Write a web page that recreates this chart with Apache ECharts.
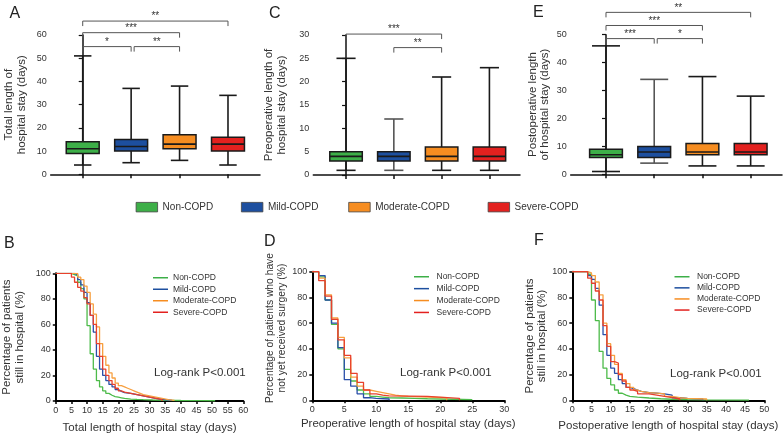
<!DOCTYPE html>
<html><head><meta charset="utf-8">
<script src="https://cdn.jsdelivr.net/npm/echarts@6/dist/echarts.min.js"></script>
<style>html,body{margin:0;padding:0;background:#fff}#c{width:784px;height:435px}</style>
</head><body><div id="c"></div><script>
const FONT = '"Liberation Sans", Arial, Helvetica, sans-serif';
const groups = ['Non-COPD', 'Mild-COPD', 'Moderate-COPD', 'Severe-COPD'];
const boxColors = ['#3daf48', '#1d4f9f', '#f68d21', '#e3211f'];
const lineColors = ['#4dbb4a', '#2a4fa9', '#f7a040', '#e8412c'];

// box stats per group: [min, Q1, median, Q3, max]
const totalBox = [[4, 9, 11, 14, 51], [5, 10, 12, 15, 37], [6, 11, 13, 17, 38], [4, 10, 13, 16, 34]];
const preopBox = [[1, 3, 4, 5, 25], [1, 3, 4, 5, 12], [1, 3, 4, 6, 21], [1, 3, 4, 6, 23]];
const postopBox = [[1, 6, 7, 9, 46], [4, 6, 8, 10, 34], [3, 7, 8, 11, 35], [3, 7, 8, 11, 28]];

// significance brackets: [fromGroup, toGroup, level]
const totalBrackets = [[0, 3, 66], [0, 2, 61], [0, 1, 55], [1, 2, 55]];
const totalStars = ['**', '***', '*', '**'];
const preopBrackets = [[0, 2, 30.2], [1, 2, 27.3]];
const preopStars = ['***', '**'];
const postopBrackets = [[0, 3, 58], [0, 2, 53.3], [0, 1, 48.6], [1, 2, 48.6]];
const postopStars = ['**', '***', '***', '*'];

// Kaplan-Meier style curves: [day, % remaining]
const kmTotal = [
  [[0,100],[5,99],[6,98],[7,93],[8,88],[9,80],[10,59],[11,37],[12,25],[13,16],[14,11],[15,8],[16,6],[17,4.5],[18,3.5],[19,3],[20,2.5],[21,2],[22,1.5],[24,1.2],[26,1],[28,0.8],[31,0.6],[35,0.4],[40,0.3],[46,0.2],[51,0]],
  [[0,100],[5,100],[6,99],[7,95],[8,91],[9,85],[10,77],[11,67],[12,54],[13,35],[14,25],[15,20],[16,16],[17,13],[18,11],[19,9],[20,7.5],[21,6.5],[22,6],[24,5],[26,4],[28,3],[30,2],[32,1.2],[34,0.6],[37,0]],
  [[0,100],[6,100],[7,97],[8,95],[9,90],[10,85],[11,76],[12,68],[13,58],[14,45],[15,35],[16,28],[17,22],[18,18],[19,14],[20,12],[21,11],[22,10],[23,9],[24,8],[25,7],[26,6],[27,5],[28,4],[30,3],[32,2],[34,1],[36,0.5],[38,0]],
  [[0,100],[4,100],[5,97],[6,93],[7,89],[8,86],[9,81],[10,76],[11,67],[12,60],[13,45],[14,35],[15,25],[16,20],[17,16],[18,13],[19,10],[20,8],[21,7],[22,6],[24,5],[26,4],[28,3],[30,2],[32,1],[34,0]]
];
const kmPreop = [
  [[0,100],[1,96],[2,78],[3,59],[4,40],[5,24],[6,15],[7,8],[8,5],[9,3],[10,2.5],[11,2],[12,1.8],[14,1.5],[16,1.2],[18,1],[20,0.8],[22,0.5],[25,0]],
  [[0,100],[1,97],[2,78],[3,60],[4,41],[5,16],[6,11],[7,5],[8,2],[9,1.5],[10,1],[12,0]],
  [[0,100],[1,95],[2,82],[3,64],[4,49],[5,33],[6,18],[7,11],[8,8],[9,7],[10,6],[11,5],[12,4],[13,3.5],[14,3],[15,2.5],[18,2],[21,0]],
  [[0,100],[1,93],[2,81],[3,63],[4,47],[5,35],[6,21],[7,14],[8,8],[9,5],[10,4],[11,3.5],[12,3],[18,1.5],[23,0]]
];
const kmPostop = [
  [[0,100],[3,100],[4,98],[5,78],[6,62],[7,38],[8,25],[9,17],[10,12],[11,8],[12,5.5],[13,4],[14,3],[15,2.5],[17,1.8],[20,1.2],[23,0.8],[26,0.5],[30,0.3],[35,0.2],[46,0]],
  [[0,100],[4,97],[5,94],[6,87],[7,74],[8,51],[9,35],[10,25],[11,21],[12,16],[13,13],[14,10],[15,9],[16,8],[17,7],[18,6],[20,5.5],[22,5],[24,4],[26,2],[28,1.5],[30,1],[34,0]],
  [[0,100],[3,100],[4,99],[5,97],[6,92],[7,82],[8,60],[9,44],[10,35],[11,28],[12,21],[13,16],[14,13],[15,10],[16,8],[17,7],[18,6],[20,5.5],[22,5],[24,3],[26,2],[28,1.5],[30,1],[35,0]],
  [[0,100],[3,100],[4,95],[5,91],[6,85],[7,78],[8,58],[9,42],[10,30],[11,29],[12,20],[13,15],[14,10],[15,8],[16,7],[17,5],[18,5],[20,4],[22,3],[24,2],[26,1],[28,0]]
];

const TXT = '#333';
function boxItem(color, whisker, capRatio) {
  return function (params, api) {
    const x = api.value(0);
    const lo = api.coord([x, api.value(1)]);
    const q1 = api.coord([x, api.value(2)]);
    const md = api.coord([x, api.value(3)]);
    const q3 = api.coord([x, api.value(4)]);
    const hi = api.coord([x, api.value(5)]);
    const unit = api.size([1, 0])[0];
    const bw = unit * 0.68, cw = unit * capRatio;
    const cx = lo[0];
    const ln = (x1, y1, x2, y2, c) => ({ type: 'line', shape: { x1, y1, x2, y2 }, style: { stroke: c, lineWidth: 1.6 } });
    return { type: 'group', children: [
      ln(cx, hi[1], cx, q3[1], whisker),
      ln(cx, q1[1], cx, lo[1], whisker),
      ln(cx - cw / 2, hi[1], cx + cw / 2, hi[1], whisker),
      ln(cx - cw / 2, lo[1], cx + cw / 2, lo[1], whisker),
      { type: 'rect', shape: { x: cx - bw / 2, y: q3[1], width: bw, height: q1[1] - q3[1] }, style: { fill: color, stroke: '#1a1a1a', lineWidth: 1.5 } },
      ln(cx - bw / 2, md[1], cx + bw / 2, md[1], '#1a1a1a')
    ] };
  };
}
function bracketItem(list, stars) {
  return function (params, api) {
    const i = params.dataIndex;
    const a = api.value(0), b = api.value(1), lvl = api.value(2);
    const p1 = api.coord([a, lvl]), p2 = api.coord([b, lvl]);
    const shared = list.some((o, j) => j !== i && o[1] === a && o[2] === lvl);
    const x1 = p1[0] + (shared ? 3 : 0), x2 = p2[0], y = p1[1];
    return { type: 'group', children: [
      { type: 'polyline', shape: { points: [[x1, y + 5], [x1, y], [x2, y], [x2, y + 5]] }, style: { stroke: '#555', lineWidth: 1, fill: 'none' } },
      { type: 'text', style: { text: stars[i], x: (x1 + x2) / 2, y: y - 4.5, align: 'center', verticalAlign: 'middle', fontSize: 10, fill: TXT, fontFamily: FONT } }
    ] };
  };
}

const grids = [
  { left: 50.7, top: 35, width: 209.3, height: 139.3 },
  { left: 313.3, top: 35, width: 206.7, height: 140 },
  { left: 570.7, top: 34.7, width: 211.3, height: 139.6 },
  { left: 52.3, top: 273.3, width: 191, height: 128.7 },
  { left: 312.3, top: 271.7, width: 192, height: 128.6 },
  { left: 572.3, top: 271.7, width: 192, height: 128.6 }
];

const boxX = (gi, min, max) => ({
  type: 'value', gridIndex: gi, min, max,
  axisLine: { show: true, lineStyle: { color: '#111', width: 1.5 } },
  axisTick: { show: true, customValues: [0, 1, 2, 3], length: 4, lineStyle: { color: '#111', width: 1.5 } },
  axisLabel: { show: false }, splitLine: { show: false }
});
const boxY = (gi, max, interval, name, gap) => ({
  type: 'value', gridIndex: gi, min: 0, max, interval,
  axisLine: { show: true, lineStyle: { color: '#111', width: 1.5 } },
  axisTick: { show: true, length: 4, lineStyle: { color: '#111', width: 1.2 } },
  axisLabel: { fontSize: 9, color: TXT, margin: 4, fontFamily: FONT },
  splitLine: { show: false },
  name, nameLocation: 'middle', nameGap: gap,
  nameTextStyle: { fontSize: 11.5, lineHeight: 12.5, color: TXT, fontFamily: FONT }
});
const kmX = (gi, max, name, gap) => ({
  type: 'value', gridIndex: gi, min: 0, max, interval: 5,
  axisLine: { show: true, lineStyle: { color: '#000', width: 2 } },
  axisTick: { show: true, length: 3, lineStyle: { color: '#000', width: 1.5 } },
  axisLabel: { fontSize: 9, color: TXT, margin: 5, fontFamily: FONT },
  splitLine: { show: false },
  name, nameLocation: 'middle', nameGap: gap,
  nameTextStyle: { fontSize: 11.5, color: TXT, fontFamily: FONT }
});
const kmY = (gi, name, gap, size, lh, shift) => ({
  type: 'value', gridIndex: gi, min: 0, max: 100, interval: 20,
  axisLine: { show: true, lineStyle: { color: '#000', width: 2 } },
  axisTick: { show: true, length: 3, lineStyle: { color: '#000', width: 1.5 } },
  axisLabel: { fontSize: 9, color: TXT, margin: 5, fontFamily: FONT },
  splitLine: { show: false },
  name, nameLocation: 'middle', nameGap: gap,
  nameTextStyle: { fontSize: size, lineHeight: lh, color: TXT, fontFamily: FONT, padding: [0, 0, 0, shift] }
});

const series = [];
[[totalBox, 0, 0.36], [preopBox, 1, 0.4], [postopBox, 2, 0.58]].forEach(([box, ax, cap]) => {
  groups.forEach((g, i) => {
    series.push({
      type: 'custom', name: g, xAxisIndex: ax, yAxisIndex: ax, clip: false,
      itemStyle: { color: boxColors[i] },
      renderItem: boxItem(boxColors[i], (i === 1 && ax > 0) ? '#555' : '#1a1a1a', cap),
      data: [[i].concat(box[i])]
    });
  });
});
[[totalBrackets, totalStars, 0], [preopBrackets, preopStars, 1], [postopBrackets, postopStars, 2]].forEach(([br, st, ax]) => {
  series.push({ type: 'custom', name: 'sig' + ax, xAxisIndex: ax, yAxisIndex: ax, clip: false, silent: true,
    renderItem: bracketItem(br, st), data: br });
});
[[kmTotal, 3], [kmPreop, 4], [kmPostop, 5]].forEach(([km, ax]) => {
  groups.forEach((g, i) => {
    series.push({ type: 'line', name: g, xAxisIndex: ax, yAxisIndex: ax, step: 'end', showSymbol: false, symbol: 'none',
      lineStyle: { color: lineColors[i], width: 1.3 }, itemStyle: { color: lineColors[i] }, data: km[i], z: 2 + i });
  });
});

const topLegend = (i, left) => ({
  left, top: 197, data: [groups[i]], icon: 'rect', itemWidth: 21.5, itemHeight: 9.5, selectedMode: false,
  itemStyle: { borderColor: '#444', borderWidth: 0.8 },
  textStyle: { fontSize: 10, color: TXT, fontFamily: FONT }
});
const kmLegend = (left, top, gap, pad) => ({
  orient: 'vertical', left, top, data: groups, icon: 'rect', itemWidth: 15, itemHeight: 1.5, itemGap: gap, selectedMode: false,
  itemStyle: { borderWidth: 0 },
  textStyle: { fontSize: 8.5, lineHeight: 9.5, color: TXT, fontFamily: FONT, padding: [0, 0, 0, pad] }
});
const letter = (t, left, top) => ({ text: t, left, top, padding: 0, textStyle: { fontSize: 16, fontWeight: 'normal', color: '#222', fontFamily: FONT } });
const note = (left, top) => ({ type: 'text', left, top, style: { text: 'Log-rank P<0.001', fontSize: 11.5, fill: TXT, fontFamily: FONT } });

const option = {
  animation: false,
  textStyle: { fontFamily: FONT },
  title: [letter('A', 9.5, 6), letter('C', 269, 6), letter('E', 533, 5), letter('B', 4, 236), letter('D', 264, 234), letter('F', 534, 233)],
  legend: [topLegend(0, 130.7), topLegend(1, 236), topLegend(2, 343.3), topLegend(3, 482.7),
    kmLegend(148, 268, 2, 0), kmLegend(409, 267, 2.4, 2.5), kmLegend(669.5, 267, 1.6, 2.5)],
  graphic: [note(154, 367), note(400, 367), note(670, 368)],
  grid: grids,
  xAxis: [boxX(0, -0.661, 3.661), boxX(1, -0.685, 3.64), boxX(2, -0.732, 3.65),
    kmX(3, 60, 'Total length of hospital stay (days)', 21),
    kmX(4, 30, 'Preoperative length of hospital stay (days)', 17.5),
    kmX(5, 50, 'Postoperative length of hospital stay (days)', 19.5)],
  yAxis: [boxY(0, 60, 10, 'Total length of\nhospital stay (days)', 22.7),
    boxY(1, 30, 5, 'Preoperative length of\nhospital stay (days)', 25.5),
    boxY(2, 50, 10, 'Postoperative length\nof hospital stay (days)', 19.5),
    kmY(3, 'Percentage of patients\nstill in hospital (%)', 29.8, 11.5, 12.5, 0),
    kmY(4, 'Percentage of patients who have\nnot yet received surgery (%)', 24.5, 10.3, 12, 16),
    kmY(5, 'Percentage of patients\nstill in hospital (%)', 23, 11.5, 12.5, 0)],
  series
};
const chart = echarts.init(document.getElementById('c'), null, { renderer: 'canvas' });
chart.setOption(option);
</script></body></html>
